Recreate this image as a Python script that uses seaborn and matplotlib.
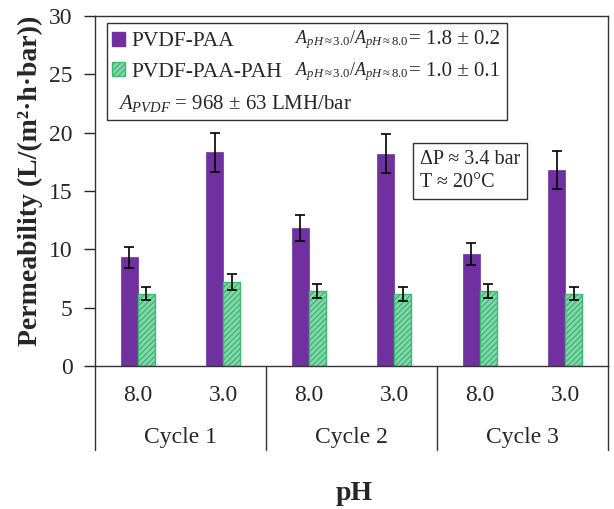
import matplotlib
matplotlib.use("Agg")
import matplotlib.pyplot as plt
import matplotlib.patches as mpatches
import pandas as pd
import seaborn as sns

sns.set_theme(style="white")
plt.rcParams["font.family"] = ["Liberation Serif", "DejaVu Serif"]
plt.rcParams["mathtext.fontset"] = "custom"
plt.rcParams["mathtext.rm"] = "Liberation Serif"
plt.rcParams["mathtext.it"] = "Liberation Serif:italic"
plt.rcParams["mathtext.bf"] = "Liberation Serif:bold"

# data
cycles = ["Cycle 1", "Cycle 2", "Cycle 3"]
ph_labels = ["8.0", "3.0", "8.0", "3.0", "8.0", "3.0"]
conditions = ["C1 8.0", "C1 3.0", "C2 8.0", "C2 3.0", "C3 8.0", "C3 3.0"]
membranes = ["PVDF-PAA", "PVDF-PAA-PAH"]
paa_mean = [9.3, 18.3, 11.8, 18.2, 9.6, 16.8]
paa_err = [0.9, 1.7, 1.1, 1.7, 0.95, 1.6]
pah_mean = [6.2, 7.2, 6.4, 6.2, 6.4, 6.2]
pah_err = [0.55, 0.7, 0.6, 0.6, 0.6, 0.55]

PURPLE = "#7030a0"
GREEN = "#86d6ad"
GREEN_EDGE = "#3cba74"

df = pd.DataFrame({
    "cond": conditions * 2,
    "membrane": [membranes[0]] * 6 + [membranes[1]] * 6,
    "perm": paa_mean + pah_mean,
    "err": paa_err + pah_err,
})

fig = plt.figure(figsize=(6.14, 5.09), dpi=100)
ax = fig.add_axes([0.1547, 0.281, 0.8353, 0.6876])

sns.barplot(data=df, x="cond", y="perm", hue="membrane", order=conditions,
            hue_order=membranes, palette=[PURPLE, GREEN], width=0.4,
            saturation=1, errorbar=None, ax=ax, legend=False)

# style bars and add error bars at the bar centres
bars = ax.patches[:12]
for i, p in enumerate(bars):
    if i >= 6:
        p.set_edgecolor(GREEN_EDGE)
        p.set_hatch("//////")
        p.set_linewidth(1.0)
    else:
        p.set_edgecolor(PURPLE)
        p.set_linewidth(0.5)
xs = [p.get_x() + p.get_width() / 2 for p in bars]
ax.errorbar(xs, df["perm"], yerr=df["err"], fmt="none", ecolor="black",
            elinewidth=1.2, capsize=3.5, capthick=1.2, zorder=5)

ax.set_ylim(0, 30)
ax.set_xlim(-0.5, 5.5)
ax.set_yticks(range(0, 31, 5))
ax.tick_params(axis="y", direction="out", length=8, width=1, labelsize=17,
               left=True, pad=8)
ax.tick_params(axis="x", length=0, labelsize=17, pad=14)
ax.set_xticks(range(6))
ax.set_xticklabels(ph_labels)
for s in ax.spines.values():
    s.set_color("#333333")
    s.set_linewidth(1.0)

ax.set_xlabel("")
ax.set_ylabel("Permeability (L/(m²·h·bar))", fontsize=20, fontweight="bold")
ax.yaxis.set_label_coords(-0.101, 0.53)

# group separators below the axis
trans = ax.get_xaxis_transform()
for xv in [-0.5, 1.5, 3.5, 5.5]:
    ax.plot([xv, xv], [0, -0.24], transform=trans, color="#333333", lw=1.0,
            clip_on=False)
for k, c in enumerate(cycles):
    ax.text(2 * k + 0.5, -0.203, c, transform=trans, ha="center", va="center",
            fontsize=17)
fig.text(0.577, 0.03, "pH", ha="center", va="center", fontsize=20,
         fontweight="bold")

# legend box
fig.patches.append(mpatches.Rectangle((107 / 614, 1 - 120 / 509), 400 / 614,
                                      97 / 509, transform=fig.transFigure,
                                      fill=False, edgecolor="#333333", lw=1.0))
handles = [mpatches.Patch(facecolor=PURPLE, edgecolor=PURPLE),
           mpatches.Patch(facecolor=GREEN, edgecolor=GREEN_EDGE, hatch="//////")]
leg = fig.legend(handles, membranes, loc="upper left",
                 bbox_to_anchor=(112 / 614, 1 - 32 / 509), frameon=False,
                 fontsize=15.5, handlelength=0.6, handleheight=0.6,
                 handletextpad=0.3, labelspacing=0.5, borderaxespad=0,
                 borderpad=0)
ratio = r"$A_{pH\approx3.0}/A_{pH\approx8.0}$"
for yy, val in [(40, "= 1.8 ± 0.2"), (72, "= 1.0 ± 0.1")]:
    fig.text(295 / 614, 1 - yy / 509, ratio, fontsize=13, va="center")
    fig.text(409 / 614, 1 - yy / 509, val, fontsize=15, va="center")
fig.text(118 / 614, 1 - 104 / 509, r"$A_{PVDF}$ = 968 ± 63 LMH/bar",
         fontsize=15, va="center")

# operating conditions box
ax.text(0.634, 0.617, "ΔP ≈ 3.4 bar\nT ≈ 20°C", transform=ax.transAxes,
        fontsize=14.5, va="top", ha="left", linespacing=1.3,
        bbox=dict(boxstyle="square,pad=0.35", facecolor="white",
                  edgecolor="#333333", lw=1.0))

fig.savefig("out.png", dpi=100)
